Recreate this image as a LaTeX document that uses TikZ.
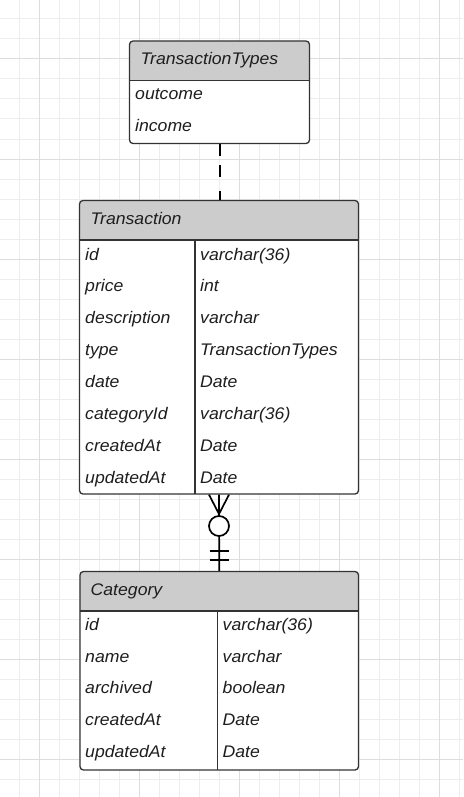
\documentclass[tikz,border=0pt]{standalone}
\usepackage{fontspec}
\newfontfamily\erfont[FakeStretch=1.05]{Liberation Sans Italic}
\definecolor{gridminor}{HTML}{EDEDED}
\definecolor{gridmajor}{HTML}{DDDDDD}
\definecolor{hdr}{HTML}{CCCCCC}
\definecolor{edge}{HTML}{333333}
\definecolor{ink}{HTML}{1E1E1E}
\begin{document}
\begin{tikzpicture}[x=1pt,y=-1pt,
  gridline/.style={gridminor,line width=1pt},
  gridmaj/.style={gridmajor,line width=1pt},
  tablebox/.style={draw=edge,line width=1.3pt,rounded corners=3.5pt,inner sep=0pt,fill=none},
  sepline/.style={draw=edge,line width=1.3pt},
  txt/.style={font=\erfont\fontsize{16.8}{19}\selectfont,text=ink,inner sep=0pt,anchor=base west},
  conn/.style={draw=black,line width=1.7pt},
  dashconn/.style={draw=black,line width=2pt,dash pattern=on 11.5pt off 9pt on 12pt off 14pt on 11pt}]
\useasboundingbox (0,0) rectangle (463,797);
\fill[white] (0,0) rectangle (463,797);
% grid
\foreach \i in {1,...,23} \draw[gridline] (20*\i-0.5,0) -- (20*\i-0.5,797);
\foreach \j in {1,...,40} \draw[gridline] (0,20*\j-1) -- (463,20*\j-1);
\foreach \i in {0,...,4} \draw[gridmaj] (100*\i+39.5,0) -- (100*\i+39.5,797);
\foreach \j in {0,...,7} \draw[gridmaj] (0,100*\j+59) -- (463,100*\j+59);

% ---------- TransactionTypes ----------
\fill[white,rounded corners=3.5pt] (129.5,41) rectangle (309.5,143.5);
\fill[hdr,rounded corners=3.5pt] (129.5,41) rectangle (309.5,80.5);
\fill[hdr] (129.5,70) rectangle (309.5,80.5);
\draw[sepline] (129.5,80.5) -- (309.5,80.5);
\node[tablebox,minimum width=180pt,minimum height=102.5pt] (tt) at (219.5,92.25) {};
\node[txt] (tth) at (140.5,64.3) {TransactionTypes};
\node[txt] (tt1) at (135,100) {outcome};
\node[txt] (tt2) at (135,131.7) {income};

% ---------- Transaction ----------
\fill[white,rounded corners=3.5pt] (79.5,200.5) rectangle (358.5,494);
\fill[hdr,rounded corners=3.5pt] (79.5,200.5) rectangle (358.5,240);
\fill[hdr] (79.5,225) rectangle (358.5,240);
\draw[sepline] (79.5,240) -- (358.5,240);
\draw[sepline] (195,240) -- (195,494);
\node[tablebox,minimum width=279pt,minimum height=293.5pt] (tr) at (219,347.25) {};
\node[txt] (trh) at (90.5,224) {Transaction};
\foreach \n/\t [count=\k from 0] in {id/varchar(36),price/int,description/varchar,type/TransactionTypes,date/Date,categoryId/varchar(36),createdAt/Date,updatedAt/Date}{
  \node[txt] (trn\k) at (85,260+31.9*\k) {\n};
  \node[txt] (trt\k) at (200,260+31.9*\k) {\t};
}

% ---------- Category ----------
\fill[white,rounded corners=3.5pt] (80,571.5) rectangle (358.5,770);
\fill[hdr,rounded corners=3.5pt] (80,571.5) rectangle (358.5,611);
\fill[hdr] (80,595) rectangle (358.5,611);
\draw[sepline] (80,611) -- (358.5,611);
\draw[sepline] (217.5,611) -- (217.5,770);
\node[tablebox,minimum width=278.5pt,minimum height=198.5pt] (cat) at (219.25,670.75) {};
\node[txt] (cath) at (90.5,595) {Category};
\foreach \n/\t [count=\k from 0] in {id/varchar(36),name/varchar,archived/boolean,createdAt/Date,updatedAt/Date}{
  \node[txt] (catn\k) at (85,630.7+31.6*\k) {\n};
  \node[txt] (catt\k) at (222.5,630.7+31.6*\k) {\t};
}

% ---------- connectors ----------
\draw[dashconn] (tt.south) -- (tt.south |- tr.north);
\coordinate (cf) at (219,514);
\coordinate (cc) at (219,526);
\draw[conn] (tr.south) -- (cat.north);
\draw[conn] ([xshift=-10pt]tr.south) -- (cf);
\draw[conn] ([xshift=10pt]tr.south) -- (cf);
\draw[conn,fill=white] (cc) circle (10pt);
\draw[conn] (209.5,551) -- (228.5,551);
\draw[conn] (209.5,560) -- (228.5,560);
\end{tikzpicture}
\end{document}
